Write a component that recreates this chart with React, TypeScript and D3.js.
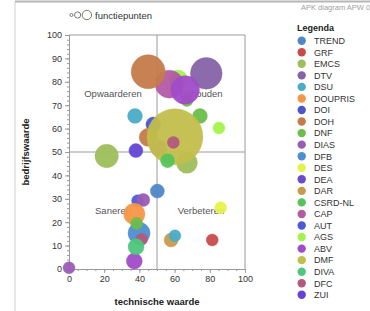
import React, { useEffect, useRef } from "react";
import * as d3 from "d3";

// legend series
const seriesNames = [
  "TREND", "GRF", "EMCS", "DTV", "DSU", "DOUPRIS", "DOI", "DOH", "DNF", "DIAS", "DFB", "DES",
  "DEA", "DAR", "CSRD-NL", "CAP", "AUT", "AGS", "ABV", "DMF", "DIVA", "DFC", "ZUI",
];
const seriesColors = [
  "#4f87c9", "#c84b4b", "#9dbe5a", "#8563a8", "#4aacc6", "#f79646", "#4c55c9", "#c47a4a",
  "#6cbd4b", "#9a5bb5", "#4d8fd0", "#e5f24a", "#6b4bc9", "#c99a4c", "#55c35a", "#b35aa5",
  "#4b5bd5", "#a5f24b", "#a14bc8", "#c2be4b", "#4dc77d", "#b2597d", "#6443d4",
];

// bubbles: series, technische waarde, bedrijfswaarde, functiepunten
const pointSeries = [
  "AGS", "DIVA", "CAP", "DOH", "DTV", "DNF", "ABV", "DSU", "DNF", "AGS", "DOI", "DOH",
  "ABV", "EMCS", "DMF", "DFC", "CSRD-NL", "ZUI", "EMCS", "TREND", "AUT", "DIAS", "DES",
  "DOUPRIS", "DFB", "DFC", "DNF", "ABV", "DIVA", "DAR", "DSU", "GRF", "DIAS",
];
const pointX = [
  62, 61, 57, 45, 78, 67, 66, 37.5, 74.4, 85.2, 47.9, 45,
  51, 67, 60.2, 59.3, 56, 38, 21.4, 50.2, 39, 42.2, 86.2,
  37.1, 39.8, 41.3, 38.4, 37.1, 38.1, 58, 60.2, 81.4, 0,
];
const pointY = [
  81, 80, 79, 84.3, 83.6, 72, 76.5, 65.4, 65.4, 60.3, 61.8, 56.3,
  51.6, 45.4, 56.5, 54.1, 46.3, 50.6, 48.3, 33.3, 29.2, 29.5, 26.2,
  23.5, 15.3, 12.7, 19.5, 3.4, 9.5, 12.4, 14.2, 12.4, 0.5,
];
const pointSize = [
  230, 120, 500, 737, 640, 92, 520, 140, 140, 92, 140, 207,
  163, 280, 2000, 92, 125, 125, 350, 125, 92, 110, 92,
  290, 310, 92, 92, 163, 163, 125, 92, 92, 92,
];

const quadrantLabels = ["Opwaarderen", "Behouden", "Saneren", "Verbeteren"];
const quadrantX = [25, 75, 25, 75];
const quadrantY = [75, 75, 25, 25];
const sizeLegend = [5, 25, 55];

const W = 370;
const H = 311;
const FONT = "'Liberation Sans', Arial, sans-serif";

export default function App() {
  const ref = useRef<SVGSVGElement>(null);

  useEffect(() => {
    document.body.style.margin = "0";
    const svg = d3.select(ref.current);
    svg.selectAll("*").remove();

    const margin = { top: 35, right: 125, bottom: 42, left: 69 };
    const width = W - margin.left - margin.right;
    const height = H - margin.top - margin.bottom;

    const x = d3.scaleLinear().domain([0, 100]).range([0, width]);
    const y = d3.scaleLinear().domain([0, 100]).range([height, 0]);
    const r = d3.scaleSqrt().domain([0, 2000]).range([0, 28]);
    const color = d3.scaleOrdinal<string, string>().domain(seriesNames).range(seriesColors);

    // page frame
    svg.append("line").attr("x1", 15).attr("x2", W).attr("y1", 1.5).attr("y2", 1.5)
      .attr("stroke", "#b5b5b5").attr("stroke-width", 2);
    svg.append("line").attr("x1", 15).attr("x2", 15).attr("y1", 1.5).attr("y2", H)
      .attr("stroke", "#cfcfcf").attr("stroke-width", 1);
    svg.append("text").attr("x", 301).attr("y", 10).attr("font-family", FONT)
      .attr("font-size", 7.5).attr("fill", "#a0a0a0").text("APK diagram APW 0");

    const g = svg.append("g").attr("transform", `translate(${margin.left},${margin.top})`);

    // minor ticks
    const xMinor = d3.axisBottom(x).tickValues(d3.range(0, 101, 5)).tickSize(2).tickFormat(() => "");
    const yMinor = d3.axisLeft(y).tickValues(d3.range(0, 101, 2)).tickSize(2).tickFormat(() => "");
    g.append("g").attr("transform", `translate(0,${height})`).call(xMinor);
    g.append("g").call(yMinor);

    const xAxis = d3.axisBottom(x).tickValues(d3.range(0, 101, 20)).tickSize(4).tickPadding(3);
    const yAxis = d3.axisLeft(y).tickValues(d3.range(0, 101, 10)).tickSize(4).tickPadding(3);
    g.append("g").attr("class", "xaxis").attr("transform", `translate(0,${height})`).call(xAxis);
    g.append("g").attr("class", "yaxis").call(yAxis);
    g.selectAll(".domain").attr("stroke", "#9a9a9a");
    g.selectAll(".tick line").attr("stroke", "#9a9a9a");
    g.selectAll(".tick text").attr("font-family", FONT).attr("font-size", 9).attr("fill", "#333");

    // frame + quadrant lines
    g.append("line").attr("x1", 0).attr("x2", width).attr("y1", 0).attr("y2", 0).attr("stroke", "#9a9a9a");
    g.append("line").attr("x1", width).attr("x2", width).attr("y1", 0).attr("y2", height).attr("stroke", "#9a9a9a");
    g.append("line").attr("x1", x(50)).attr("x2", x(50)).attr("y1", 0).attr("y2", height).attr("stroke", "#9a9a9a");
    g.append("line").attr("x1", 0).attr("x2", width).attr("y1", y(50)).attr("y2", y(50)).attr("stroke", "#9a9a9a");

    g.selectAll(".quad").data(quadrantLabels).enter().append("text")
      .attr("x", (_d, i) => x(quadrantX[i]))
      .attr("y", (_d, i) => y(quadrantY[i]) + 3)
      .attr("text-anchor", "middle").attr("font-family", FONT).attr("font-size", 9.5)
      .attr("fill", "#555").text((d) => d);

    // bubbles
    g.selectAll(".bubble").data(pointSeries).enter().append("circle")
      .attr("cx", (_d, i) => x(pointX[i]))
      .attr("cy", (_d, i) => y(pointY[i]))
      .attr("r", (_d, i) => r(pointSize[i]))
      .attr("fill", (d) => color(d))
      .attr("fill-opacity", 0.95)
      .attr("stroke", (d) => color(d))
      .attr("stroke-opacity", 0.4)
      .attr("stroke-width", 1);

    // axis titles
    svg.append("text").attr("x", margin.left + x(50)).attr("y", 305).attr("text-anchor", "middle")
      .attr("font-family", FONT).attr("font-size", 9.5).attr("font-weight", "bold").attr("fill", "#222")
      .text("technische waarde");
    svg.append("text").attr("transform", `translate(29,${margin.top + y(50)}) rotate(-90)`)
      .attr("text-anchor", "middle").attr("font-family", FONT).attr("font-size", 9.5)
      .attr("font-weight", "bold").attr("fill", "#222").text("bedrijfswaarde");

    // size legend
    let cx = 70;
    sizeLegend.forEach((_s, i) => {
      const rad = 1.5 + i * 1.6;
      svg.append("circle").attr("cx", cx + rad).attr("cy", 15).attr("r", rad)
        .attr("fill", "none").attr("stroke", "#777").attr("stroke-width", 1);
      cx += rad * 2 + 1.5;
    });
    svg.append("text").attr("x", 95).attr("y", 18.5).attr("font-family", FONT).attr("font-size", 9.5)
      .attr("fill", "#333").text("functiepunten");

    // series legend
    const leg = svg.append("g").attr("transform", "translate(297,0)");
    leg.append("text").attr("x", 0).attr("y", 30.5).attr("font-family", FONT).attr("font-size", 9)
      .attr("font-weight", "bold").attr("fill", "#222").text("Legenda");
    const step = 11.55;
    const items = leg.selectAll(".item").data(seriesNames).enter().append("g")
      .attr("transform", (_d, i) => `translate(0,${40.7 + i * step})`);
    items.append("circle").attr("cx", 4.7).attr("cy", 0).attr("r", 4.2).attr("fill", (d) => color(d));
    items.append("text").attr("x", 17).attr("y", 3.3).attr("font-family", FONT).attr("font-size", 9)
      .attr("fill", "#333").text((d) => d);
  }, []);

  return <svg ref={ref} width={W} height={H} style={{ display: "block", background: "#fff" }} />;
}
